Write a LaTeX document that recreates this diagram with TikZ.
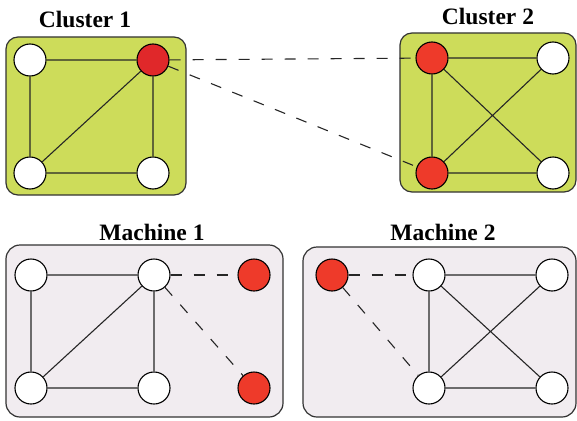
\documentclass[tikz,border=0pt]{standalone}
\usepackage{fontspec}
\setmainfont{Liberation Serif}
\begin{document}
\begin{tikzpicture}[x=1pt,y=-1pt,
  vtx/.style={circle,draw=black,line width=1.1pt,fill=white,minimum size=32pt,inner sep=0pt},
  hot/.style={vtx,fill={rgb,255:red,238;green,58;blue,42}},
  hotdark/.style={vtx,fill={rgb,255:red,224;green,40;blue,42}},
  edge/.style={line width=1.1pt,black!85},
  link/.style={line width=1.1pt,black!85,dash pattern=on 11pt off 12pt},
  cluster/.style={draw=black!80,line width=1.2pt,rounded corners=12pt,fill={rgb,255:red,205;green,220;blue,90}},
  machine/.style={draw=black!80,line width=1.2pt,rounded corners=14pt,fill={rgb,255:red,241;green,236;blue,240}},
  title/.style={font=\bfseries\fontsize{23.5}{26}\selectfont}]
\useasboundingbox (0,0) rectangle (577,420);

% cluster panels
\draw[cluster] (6,37) rectangle (186,195);
\draw[cluster] (400,33) rectangle (576,192);
\node[title] (c1t) at (85,19) {Cluster 1};
\node[title] (c2t) at (488,16) {Cluster 2};

% machine panels
\draw[machine] (6,245) rectangle (283,417);
\draw[machine] (303,247) rectangle (576,417);
\node[title] (m1t) at (152,232) {Machine 1};
\node[title] (m2t) at (443,232) {Machine 2};

% cluster 1 vertices
\node[vtx] (a1) at (30,60) {};
\node[hotdark] (a2) at (153,60) {};
\node[vtx] (a3) at (30,173) {};
\node[vtx] (a4) at (153,173) {};
\draw[edge] (a1)--(a2) (a1)--(a3) (a3)--(a4) (a2)--(a4) (a3)--(a2);

% cluster 2 vertices
\node[hot] (b1) at (432,58) {};
\node[vtx] (b2) at (553,58) {};
\node[hot] (b3) at (432,173) {};
\node[vtx] (b4) at (553,173) {};
\draw[edge] (b1)--(b2) (b1)--(b3) (b3)--(b4) (b1)--(b4) (b3)--(b2);

% links between clusters
\draw[link] (a2)--(b1);
\draw[link] (a2)--(b3);

% machine 1 vertices
\node[vtx] (p1) at (31,275) {};
\node[vtx] (p2) at (154,275) {};
\node[vtx] (p3) at (31,388) {};
\node[vtx] (p4) at (154,388) {};
\node[hot] (p5) at (254,275) {};
\node[hot] (p6) at (254,388) {};
\draw[edge] (p1)--(p2) (p1)--(p3) (p3)--(p4) (p2)--(p4) (p3)--(p2);
\draw[link] (p2)--(p5);
\draw[link] (p2)--(p6);

% machine 2 vertices
\node[hot] (q0) at (332,275) {};
\node[vtx] (q1) at (429,275) {};
\node[vtx] (q2) at (552,275) {};
\node[vtx] (q3) at (429,388) {};
\node[vtx] (q4) at (552,388) {};
\draw[edge] (q1)--(q2) (q1)--(q3) (q3)--(q4) (q1)--(q4) (q3)--(q2);
\draw[link] (q0)--(q1);
\draw[link] (q0)--(q3);
\end{tikzpicture}
\end{document}
